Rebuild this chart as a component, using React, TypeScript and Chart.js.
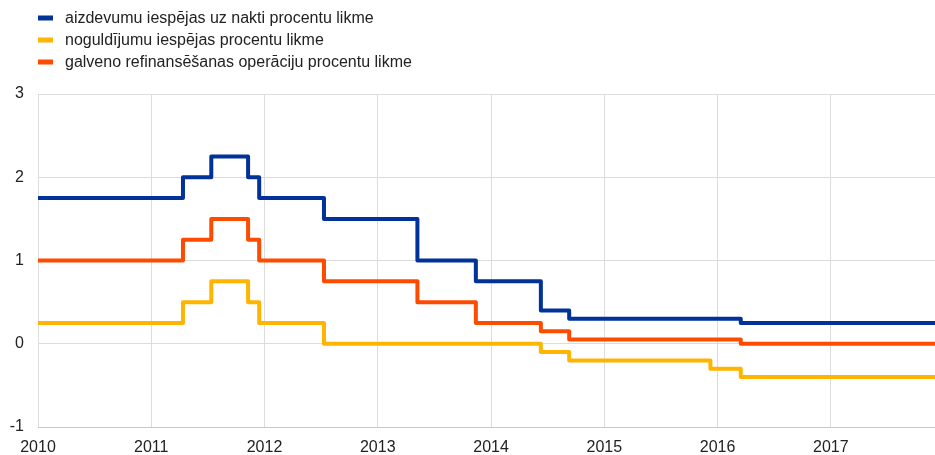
import React, { useEffect, useRef } from "react";
import { Chart, registerables } from "chart.js";

Chart.register(...registerables);

// Decimal-year dates of ECB rate changes (plus start and end of the period)
const changeDates = [2010.0, 2011.28, 2011.53, 2011.855, 2011.953, 2012.525, 2013.35, 2013.866, 2014.44, 2014.69, 2015.937, 2016.205, 2017.92];
const marginalLending = [1.75, 2.0, 2.25, 2.0, 1.75, 1.5, 1.0, 0.75, 0.4, 0.3, 0.3, 0.25, 0.25];
const depositFacility = [0.25, 0.5, 0.75, 0.5, 0.25, 0.0, 0.0, 0.0, -0.1, -0.2, -0.3, -0.4, -0.4];
const mainRefinancing = [1.0, 1.25, 1.5, 1.25, 1.0, 0.75, 0.5, 0.25, 0.15, 0.05, 0.05, 0.0, 0.0];
const seriesLabels = [
  "aizdevumu iespējas uz nakti procentu likme",
  "noguldījumu iespējas procentu likme",
  "galveno refinansēšanas operāciju procentu likme",
];
const seriesColors = ["#003299", "#FFB400", "#FF4B00"];
const xMin = 2010;
const xMax = 2017.92;
const yTicks = [-1, 0, 1, 2, 3];

const FONT = "'Liberation Sans', Arial, sans-serif";

const legendPlugin = {
  id: "customLegend",
  afterDraw(chart: any) {
    const ctx = chart.ctx;
    ctx.save();
    ctx.font = `16px ${FONT}`;
    ctx.textBaseline = "middle";
    ctx.textAlign = "left";
    chart.data.datasets.forEach((ds: any, i: number) => {
      const y = 18 + i * 22;
      ctx.fillStyle = ds.borderColor;
      ctx.fillRect(38, y - 2.5, 15, 5);
      ctx.fillStyle = "#222";
      ctx.fillText(ds.label, 65, y + 1);
    });
    ctx.restore();
  },
};

export default function App() {
  const ref = useRef<HTMLCanvasElement>(null);
  useEffect(() => {
    const mk = (vals: number[]) => changeDates.map((d, i) => ({ x: d, y: vals[i] }));
    const all = [marginalLending, depositFacility, mainRefinancing];
    const chart = new Chart(ref.current!, {
      type: "line",
      data: {
        datasets: all.map((vals, i) => ({
          label: seriesLabels[i],
          data: mk(vals),
          borderColor: seriesColors[i],
          backgroundColor: seriesColors[i],
          borderWidth: 4,
          borderJoinStyle: "round" as const,
          pointRadius: 0,
          stepped: "before" as const,
          fill: false,
        })),
      },
      options: {
        animation: false,
        responsive: true,
        maintainAspectRatio: false,
        layout: { padding: { top: 94, left: 0, right: 0, bottom: 0 } },
        plugins: { legend: { display: false }, tooltip: { enabled: false } },
        scales: {
          x: {
            type: "linear",
            min: xMin,
            max: xMax,
            ticks: {
              stepSize: 1,
              padding: 11,
              color: "#222",
              font: { family: FONT, size: 16 },
              callback: (v: any) => String(v),
              maxRotation: 0,
            },
            afterBuildTicks: (axis: any) => {
              axis.ticks = axis.ticks.filter((t: any) => Number.isInteger(t.value));
            },
            afterFit: (s: any) => {
              s.height = 28;
            },
            grid: { color: "#dcdcdc", drawTicks: false, lineWidth: 1 },
            border: { color: "#c8c8c8" },
          },
          y: {
            min: -1,
            max: 3,
            afterBuildTicks: (axis: any) => {
              axis.ticks = yTicks.map((v) => ({ value: v }));
            },
            ticks: {
              padding: 14,
              color: "#222",
              font: { family: FONT, size: 16 },
              callback: (v: any) => String(v),
            },
            afterFit: (s: any) => {
              s.width = 38;
            },
            grid: { color: "#dcdcdc", drawTicks: false, lineWidth: 1 },
            border: { display: false },
          },
        },
      },
      plugins: [legendPlugin],
    });
    return () => chart.destroy();
  }, []);
  return (
    <div style={{ position: "fixed", left: 0, top: 0, width: 935, height: 455, background: "#fff" }}>
      <canvas ref={ref} />
    </div>
  );
}
